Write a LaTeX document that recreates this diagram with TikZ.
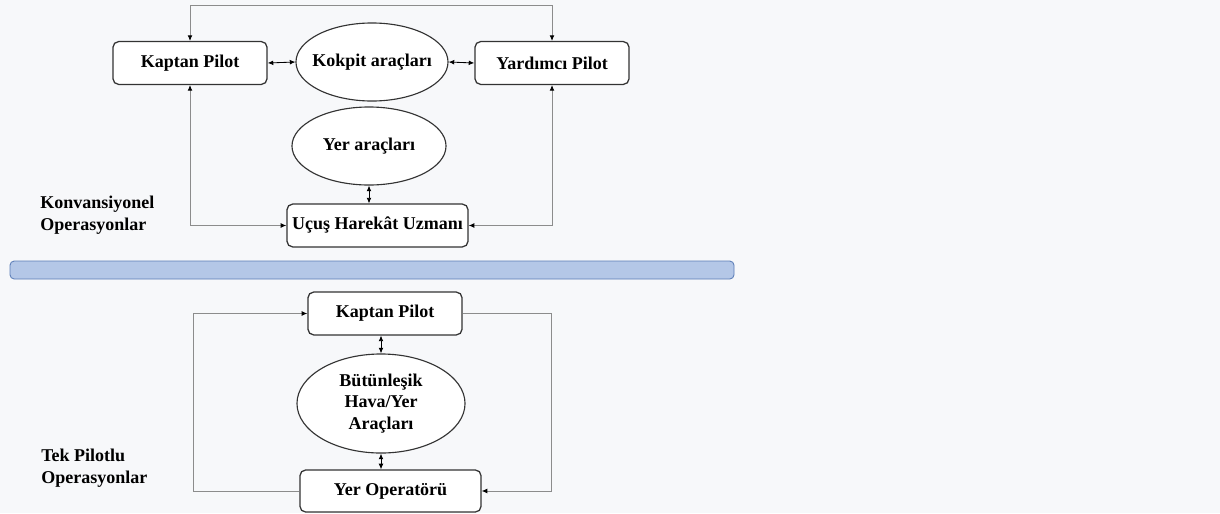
\documentclass[tikz,border=0pt]{standalone}
\usepackage{fontspec}
\setmainfont{Liberation Serif}
\usetikzlibrary{shapes.geometric,arrows.meta}
\definecolor{bgc}{HTML}{F7F8FA}
\definecolor{barfill}{HTML}{B4C7E7}
\definecolor{barline}{HTML}{5A7CB6}
\tikzset{txt/.style={font=\bfseries\fontsize{12.8}{15.5}\selectfont, inner sep=0}}
\tikzset{box/.style={txt, draw=black!80, line width=0.9pt, rounded corners=4pt, fill=white, minimum width=3.85cm, minimum height=1.07cm}}
\tikzset{oval/.style={ellipse, draw=black!80, line width=0.8pt, fill=white, inner sep=0}}
\tikzset{link/.style={draw=black!45, line width=0.6pt}}
\tikzset{short/.style={draw=black, line width=0.6pt}}

\begin{document}
\begin{tikzpicture}[x=0.025cm, y=-0.025cm, >={Latex[length=4pt,width=3.4pt,color=black]}]
\fill[bgc] (0,0) rectangle (1220,513);
\useasboundingbox (0,0) rectangle (1220,513);

% Konvansiyonel operasyonlar
\node[box] (kaptan) at (190,63) {Kaptan Pilot};
\node[oval, minimum width=3.8cm, minimum height=1.95cm] (kokpit) at (372,62) {};
\node at (kokpit) [txt] {Kokpit araçları};
\node[box] (yardimci) at (552,63) {Yardımcı Pilot};
\node[oval, minimum width=3.85cm, minimum height=1.95cm] (yer) at (369,146) {};
\node at (yer) [txt] {Yer araçları};
\node[box, minimum width=4.525cm] (ucus) at (377.5,225.5) {Uçuş Harekât Uzmanı};
\coordinate (ust) at (0,5);

\draw[link, <->] (kaptan.north) -- (kaptan.north |- ust) -| (yardimci.north);
\draw[short, <->] (kaptan.east) -- (kokpit.west);
\draw[short, <->] (kokpit.east) -- (yardimci.west);
\draw[short, <->] (yer.south) -- (yer.south |- ucus.north);
\draw[link, <->] (kaptan.south) |- (ucus.west);
\draw[link, <->] (yardimci.south) |- (ucus.east);

\node[txt, anchor=north west, align=left] (konv) at (40,196) {Konvansiyonel\\Operasyonlar};

% ayirici
\draw[fill=barfill, draw=barline, line width=0.6pt, rounded corners=3pt] (10,261) rectangle (734,279);

% Tek pilotlu operasyonlar
\node[box] (kaptanB) at (385,313.5) {Kaptan Pilot};
\node[oval, minimum width=4.2cm, minimum height=2.475cm] (butun) at (381,403.5) {};
\node at (butun) [txt, align=center] {Bütünleşik\\Hava/Yer\\Araçları};
\node[box, minimum width=4.525cm, minimum height=1.05cm] (yerop) at (390.5,491) {Yer Operatörü};

\draw[short, <->] (butun.north) -- (butun.north |- kaptanB.south);
\draw[short, <->] (butun.south) -- (butun.south |- yerop.north);
\draw[link, ->] (yerop.west) -- ++(-106,0) |- (kaptanB.west);
\draw[link, ->] (kaptanB.east) -- ++(89,0) |- (yerop.east);

\node[txt, anchor=north west, align=left] (tek) at (41,449) {Tek Pilotlu\\Operasyonlar};
\end{tikzpicture}
\end{document}
